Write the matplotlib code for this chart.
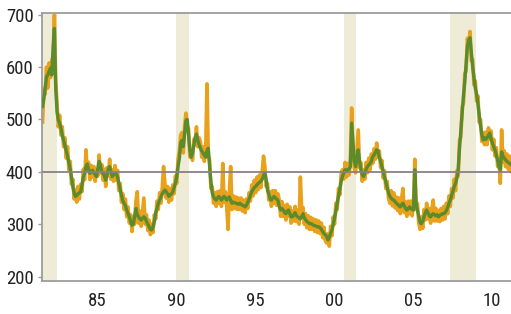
"""
Initial claims (weekly) with 4-week average, recession bands shaded.
"""
import numpy as np
import matplotlib
matplotlib.use('Agg')
import matplotlib.pyplot as plt
from matplotlib import font_manager

# monthly readings, Jan 1982 .. Oct 2011 (thousands)
start_year = 1982
avg_4wk = [
    525, 540, 560, 582, 585, 592, 598, 585, 635, 674, 560, 515,   # 1982
    499, 493, 482, 470, 460, 450, 440, 430, 418, 405, 390, 372,   # 1983
    360, 353, 355, 358, 360, 362, 375, 390, 397, 410, 415, 405,   # 1984
    397, 400, 403, 398, 395, 391, 405, 420, 412, 400, 397, 392,   # 1985
    384, 395, 405, 410, 400, 391, 395, 398, 397, 390, 378, 365,   # 1986
    355, 345, 340, 335, 327, 320, 314, 305, 298, 300, 315, 330,   # 1987
    318, 314, 310, 308, 311, 314, 312, 305, 300, 295, 290, 289,   # 1988
    295, 305, 322, 330, 340, 346, 352, 358, 362, 365, 362, 358,   # 1989
    353, 356, 358, 362, 370, 378, 390, 410, 425, 455, 460, 448,   # 1990
    474, 498, 500, 470, 440, 428, 435, 450, 465, 472, 460, 452,   # 1991
    445, 440, 436, 432, 428, 440, 445, 410, 380, 360, 352, 348,   # 1992
    346, 350, 353, 350, 346, 350, 353, 350, 346, 350, 352, 345,   # 1993
    340, 342, 341, 340, 339, 338, 340, 338, 336, 335, 333, 336,   # 1994
    342, 348, 355, 362, 366, 370, 372, 375, 378, 380, 382, 386,   # 1995
    392, 398, 385, 365, 358, 348, 346, 350, 353, 350, 348, 345,   # 1996
    333, 327, 330, 327, 322, 320, 325, 327, 320, 314, 314, 318,   # 1997
    322, 316, 314, 312, 310, 314, 320, 312, 308, 305, 303, 301,   # 1998
    301, 300, 298, 297, 296, 295, 295, 293, 290, 286, 282, 280,   # 1999
    276, 270, 275, 282, 289, 300, 312, 325, 340, 353, 368, 382,   # 2000
    391, 398, 404, 402, 404, 405, 410, 493, 455, 420, 410, 425,   # 2001
    442, 420, 405, 395, 391, 398, 405, 410, 413, 416, 420, 429,   # 2002
    432, 437, 442, 440, 428, 420, 410, 400, 390, 380, 370, 360,   # 2003
    353, 350, 347, 346, 343, 340, 338, 335, 333, 337, 340, 335,   # 2004
    330, 327, 330, 333, 330, 328, 327, 404, 340, 327, 315, 303,   # 2005
    301, 305, 314, 322, 327, 322, 316, 314, 318, 320, 318, 316,   # 2006
    318, 314, 317, 318, 320, 320, 322, 326, 332, 340, 346, 355,   # 2007
    363, 372, 378, 388, 404, 445, 478, 510, 545, 572, 605, 640,   # 2008
    652, 656, 627, 600, 580, 560, 548, 530, 508, 488, 470, 461,   # 2009
    465, 462, 465, 470, 474, 463, 455, 448, 442, 432, 422, 410,   # 2010
    404, 438, 430, 426, 423, 420, 418, 416, 414, 412,             # 2011
]
weekly = [
    495, 558, 548, 600, 560, 608, 580, 612, 622, 700, 575, 530,   # 1982
    486, 508, 470, 486, 448, 465, 426, 448, 404, 420, 376, 386,   # 1983
    348, 366, 342, 372, 348, 376, 362, 405, 385, 442, 402, 418,   # 1984
    385, 412, 390, 410, 382, 404, 392, 432, 398, 414, 384, 405,   # 1985
    372, 408, 392, 424, 386, 404, 382, 412, 384, 403, 364, 378,   # 1986
    342, 358, 328, 348, 314, 333, 302, 318, 286, 312, 300, 345,   # 1987
    362, 302, 325, 296, 322, 350, 300, 318, 288, 308, 280, 300,   # 1988
    284, 318, 310, 344, 328, 360, 340, 370, 410, 378, 350, 372,   # 1989
    342, 368, 346, 375, 358, 392, 378, 424, 440, 470, 475, 436,   # 1990
    488, 512, 488, 482, 428, 440, 422, 462, 452, 486, 448, 465,   # 1991
    458, 428, 448, 420, 440, 568, 432, 422, 368, 372, 340, 360,   # 1992
    334, 362, 340, 364, 334, 416, 342, 362, 334, 290, 360, 410,   # 1993
    328, 354, 330, 352, 328, 350, 328, 350, 325, 346, 322, 348,   # 1994
    330, 360, 344, 375, 354, 384, 360, 390, 366, 394, 370, 400,   # 1995
    430, 410, 372, 378, 346, 362, 334, 364, 340, 364, 336, 358,   # 1996
    345, 315, 343, 315, 336, 308, 338, 315, 333, 302, 326, 306,   # 1997
    334, 305, 327, 300, 390, 326, 332, 300, 320, 293, 316, 290,   # 1998
    313, 290, 310, 286, 308, 284, 306, 282, 302, 274, 294, 268,   # 1999
    264, 282, 258, 296, 278, 314, 300, 340, 328, 368, 356, 396,   # 2000
    404, 386, 418, 390, 416, 394, 422, 522, 440, 408, 398, 440,   # 2001
    480, 408, 418, 382, 404, 386, 418, 398, 426, 404, 434, 416,   # 2002
    444, 424, 455, 428, 440, 408, 422, 388, 402, 368, 382, 350,   # 2003
    340, 364, 335, 360, 331, 352, 326, 350, 320, 350, 368, 322,   # 2004
    342, 315, 344, 320, 344, 316, 340, 424, 328, 340, 302, 290,   # 2005
    314, 292, 328, 308, 340, 310, 330, 302, 330, 346, 306, 330,   # 2006
    306, 326, 305, 330, 308, 334, 310, 340, 320, 354, 334, 368,   # 2007
    350, 386, 364, 402, 392, 460, 466, 524, 532, 588, 592, 655,   # 2008
    640, 668, 612, 614, 566, 574, 535, 545, 494, 500, 458, 475,   # 2009
    452, 476, 452, 484, 462, 478, 442, 462, 430, 446, 410, 424,   # 2010
    378, 480, 418, 440, 410, 434, 405, 430, 400, 424,             # 2011
]
recessions = [(1981.5, 1982.95), (1990.5, 1991.3), (2001.15, 2001.9), (2007.85, 2009.5)]
year_labels = ['85', '90', '95', '00', '05', '10']
label_years = [1985, 1990, 1995, 2000, 2005, 2010]

ORANGE = '#e9a11b'
GREEN = '#5b8b2b'
SHADE = '#eeebd6'
GREY = '#9c9c9c'
TEXT = '#222222'


def pick_font():
    names = {f.name for f in font_manager.fontManager.ttflist}
    for name in ['Liberation Sans Narrow', 'Roboto Condensed', 'Liberation Sans']:
        if name in names:
            return name
    return 'DejaVu Sans'


def plot_claims():
    t = start_year + (np.arange(len(avg_4wk)) + 0.5) / 12.0
    t_w = start_year + (np.arange(len(weekly)) + 0.5) / 12.0

    fig = plt.figure(figsize=(5.11, 3.14), dpi=100)
    ax = fig.add_axes([0.082, 0.106, 0.918, 0.852])

    for a, b in recessions:
        ax.axvspan(a, b, color=SHADE, lw=0, zorder=0)

    ax.plot(t_w, weekly, color=ORANGE, lw=2.6, solid_joinstyle='round', zorder=2)
    ax.plot(t, avg_4wk, color=GREEN, lw=2.4, solid_joinstyle='round', zorder=3)
    ax.axhline(400, color='#8a7f86', lw=1.3, zorder=4)

    ax.set_xlim(1982.0, 2011.72)
    ax.set_ylim(192, 703)

    ax.set_yticks([200, 300, 400, 500, 600, 700])
    ax.set_xticks([y + 0.5 for y in label_years])
    ax.set_xticklabels(year_labels)

    font = pick_font()
    size = 13.5 if 'Narrow' in font or 'Condensed' in font else 12
    for lbl in ax.get_xticklabels() + ax.get_yticklabels():
        lbl.set_family([font, 'DejaVu Sans'])
        lbl.set_fontsize(size)
        lbl.set_color(TEXT)

    ax.tick_params(axis='x', length=0, pad=8)
    ax.tick_params(axis='y', length=3, width=1, color=GREY, pad=3)

    for side in ['left', 'bottom', 'top']:
        ax.spines[side].set_color(GREY)
        ax.spines[side].set_linewidth(1.3)
    ax.spines['right'].set_visible(False)

    fig.savefig('out.png', dpi=100)


if __name__ == '__main__':
    plot_claims()
